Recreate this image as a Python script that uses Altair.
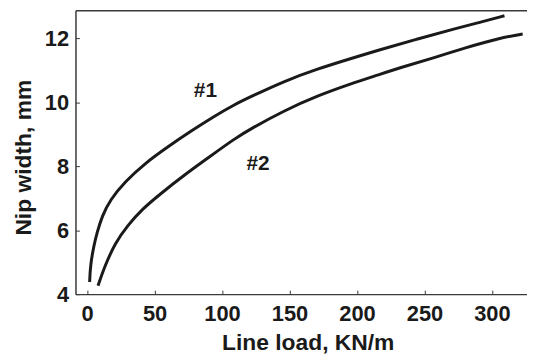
import altair as alt
import pandas as pd

# Curve #1
load_1 = [1.9, 2.4, 4.9, 7.4, 11.0, 17.1, 28.2, 42.9, 60.0, 77.2, 94.3, 109.0, 121.8,
          146.3, 170.8, 195.3, 214.9, 244.3, 273.7, 290.9, 309.3]
width_1 = [4.38, 4.88, 5.50, 5.92, 6.43, 6.95, 7.52, 8.09, 8.61, 9.10, 9.56, 9.92, 10.18,
           10.66, 11.04, 11.36, 11.61, 11.97, 12.31, 12.49, 12.70]
# Curve #2
load_2 = [8.1, 12.2, 20.8, 30.6, 40.4, 55.1, 72.3, 89.4, 109.0, 121.8, 146.3, 170.8,
          195.3, 214.9, 232.1, 256.6, 281.1, 305.6, 322.8]
width_2 = [4.26, 4.78, 5.61, 6.17, 6.64, 7.16, 7.73, 8.25, 8.85, 9.18, 9.74, 10.20,
           10.57, 10.84, 11.08, 11.38, 11.71, 12.00, 12.13]

x_ticks = [0, 50, 100, 150, 200, 250, 300]
y_ticks = [4, 6, 8, 10, 12]

label_names = ["#1", "#2"]
label_load = [87.7, 126.7]
label_width = [10.35, 8.06]

x_domain = [-8.6, 326]
y_domain = [4, 12.87]

df = pd.concat([
    pd.DataFrame({"load": load_1, "width": width_1, "series": "#1"}),
    pd.DataFrame({"load": load_2, "width": width_2, "series": "#2"}),
], ignore_index=True)
labels = pd.DataFrame({"name": label_names, "load": label_load, "width": label_width})

xs = alt.Scale(domain=x_domain, nice=False, zero=False)
ys = alt.Scale(domain=y_domain, nice=False, zero=False)

FONT = "Liberation Sans"
INK = "#1a1a1a"
AX = "#3a3a3a"

lines = alt.Chart(df).mark_line(color=INK, strokeWidth=3, interpolate="basis").encode(
    x=alt.X("load:Q", scale=xs, axis=alt.Axis(
        values=x_ticks, ticks=False, labelPadding=10, title="Line load, KN/m",
        titlePadding=7, titleX=234, domain=True)),
    y=alt.Y("width:Q", scale=ys, axis=alt.Axis(
        values=y_ticks, ticks=False, labelPadding=7, title="Nip width, mm",
        titlePadding=9, titleY=148, domain=True)),
    detail="series:N",
)

texts = alt.Chart(labels).mark_text(
    font=FONT, fontWeight="bold", fontSize=21, color=INK
).encode(
    x=alt.X("load:Q", scale=xs, axis=alt.Axis(
        values=x_ticks, orient="bottom", offset=-4, ticks=True, tickSize=4,
        labels=False, domain=False, title=None)),
    y=alt.Y("width:Q", scale=ys, axis=alt.Axis(
        values=y_ticks, orient="left", offset=-4, ticks=True, tickSize=4,
        labels=False, domain=False, title=None)),
    text="name:N",
)

top = alt.Chart(df).mark_line(opacity=0).encode(
    x=alt.X("load:Q", scale=xs, axis=alt.Axis(
        orient="top", ticks=False, labels=False, domain=True, title=None)),
    y=alt.Y("width:Q", scale=ys, axis=None),
    detail="series:N",
)

chart = alt.layer(lines, texts, top).resolve_axis(
    x="independent", y="independent"
).properties(
    width=455, height=286,
    autosize=alt.AutoSizeParams(type="none"),
    padding={"left": 68, "top": 1, "right": 0, "bottom": 60},
).configure_view(stroke=None).configure_axis(
    grid=False,
    domainColor=AX, domainWidth=1.5,
    tickColor=AX, tickWidth=1,
    labelFont=FONT, labelFontWeight="bold", labelFontSize=22, labelColor=INK,
    titleFont=FONT, titleFontWeight="bold", titleFontSize=23, titleColor=INK,
)

chart.save("out.html", embed_options={"renderer": "svg", "actions": False})
